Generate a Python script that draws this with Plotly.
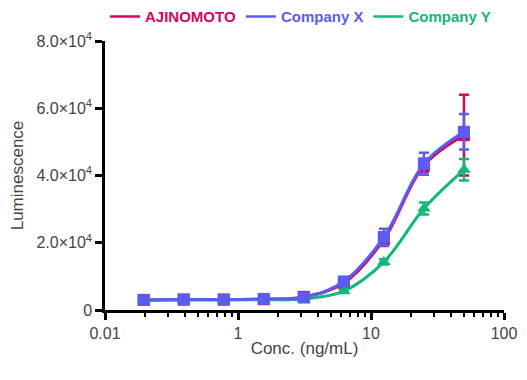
import plotly.graph_objects as go

# ---- data ----
conc = [0.1953125, 0.390625, 0.78125, 1.5625, 3.125, 6.25, 12.5, 25, 50]

series_names = ["AJINOMOTO", "Company X", "Company Y"]
ajinomoto = [3000, 3100, 3100, 3200, 3900, 8000, 21000, 43000, 52000]
ajinomoto_err = [300, 300, 300, 300, 400, 800, 2000, 2000, 12000]
company_x = [3000, 3100, 3100, 3300, 3700, 8500, 21700, 43500, 53000]
company_x_err = [300, 300, 300, 300, 400, 800, 2500, 3300, 5300]
company_y = [2900, 3000, 3000, 3100, 3300, 5600, 14300, 30200, 41700]
company_y_err = [300, 300, 300, 300, 300, 500, 800, 1800, 3200]

x_tickvals = [0.1, 1, 10, 100]
x_ticktext = ["0.01", "1", "10", "100"]
y_tickvals = [0, 20000, 40000, 60000, 80000]
y_ticktext = ["0", "2.0×10<sup>4</sup>", "4.0×10<sup>4</sup>", "6.0×10<sup>4</sup>", "8.0×10<sup>4</sup>"]

colors = {"AJINOMOTO": "#d6055f", "Company X": "#5b5cf2", "Company Y": "#13b879"}
symbols = {"AJINOMOTO": "square", "Company X": "square", "Company Y": "triangle-up"}

fig = go.Figure()

data = {
    "AJINOMOTO": (ajinomoto, ajinomoto_err),
    "Company Y": (company_y, company_y_err),
    "Company X": (company_x, company_x_err),
}

for name in ["AJINOMOTO", "Company Y", "Company X"]:
    vals, errs = data[name]
    c = colors[name]
    fig.add_trace(go.Scatter(
        x=conc, y=vals, mode="lines+markers",
        line=dict(color=c, width=3, shape="spline", smoothing=1.0),
        marker=dict(symbol=symbols[name], size=12, color=c),
        error_y=dict(type="data", array=errs, visible=True, color=c, thickness=2.5, width=5),
        showlegend=False, name=name,
    ))

# legend entries (line-only symbols)
for name in series_names:
    c = colors[name]
    fig.add_trace(go.Scatter(
        x=[None], y=[None], mode="lines",
        line=dict(color=c, width=2.5),
        name=f"<span style='color:{c}'><b>{name}</b></span>",
        showlegend=True,
    ))

# page body has an 8px default margin; size the figure to compensate
fig.update_layout(
    width=519, height=372,
    margin=dict(l=97, r=23, t=33, b=70, autoexpand=False),
    paper_bgcolor="white", plot_bgcolor="white",
    font=dict(family="Liberation Sans, Arial, sans-serif", size=16, color="#444444"),
    legend=dict(orientation="h", x=0.0, xanchor="left", y=1.09, yanchor="middle",
                font=dict(size=15), itemwidth=30, traceorder="normal",
                bgcolor="rgba(0,0,0,0)"),
)

fig.update_xaxes(
    type="log", range=[-1, 2],
    tickvals=x_tickvals, ticktext=x_ticktext,
    showline=True, linecolor="black", linewidth=2.5,
    ticks="outside", ticklen=7, tickwidth=2.5, tickcolor="black",
    minor=dict(ticks="outside", ticklen=4, tickwidth=2, tickcolor="black", dtick="D1"),
    showgrid=False, zeroline=False,
    title=dict(text="Conc. (ng/mL)", standoff=2, font=dict(size=17)),
    tickfont=dict(size=16),
)
fig.update_yaxes(
    range=[0, 80000],
    tickvals=y_tickvals, ticktext=y_ticktext,
    showline=True, linecolor="black", linewidth=2.5,
    ticks="outside", ticklen=7, tickwidth=2.5, tickcolor="black",
    showgrid=False, zeroline=False,
    title=dict(text="Luminescence", standoff=19, font=dict(size=17)),
    tickfont=dict(size=16),
)

fig.write_html("out.html")
